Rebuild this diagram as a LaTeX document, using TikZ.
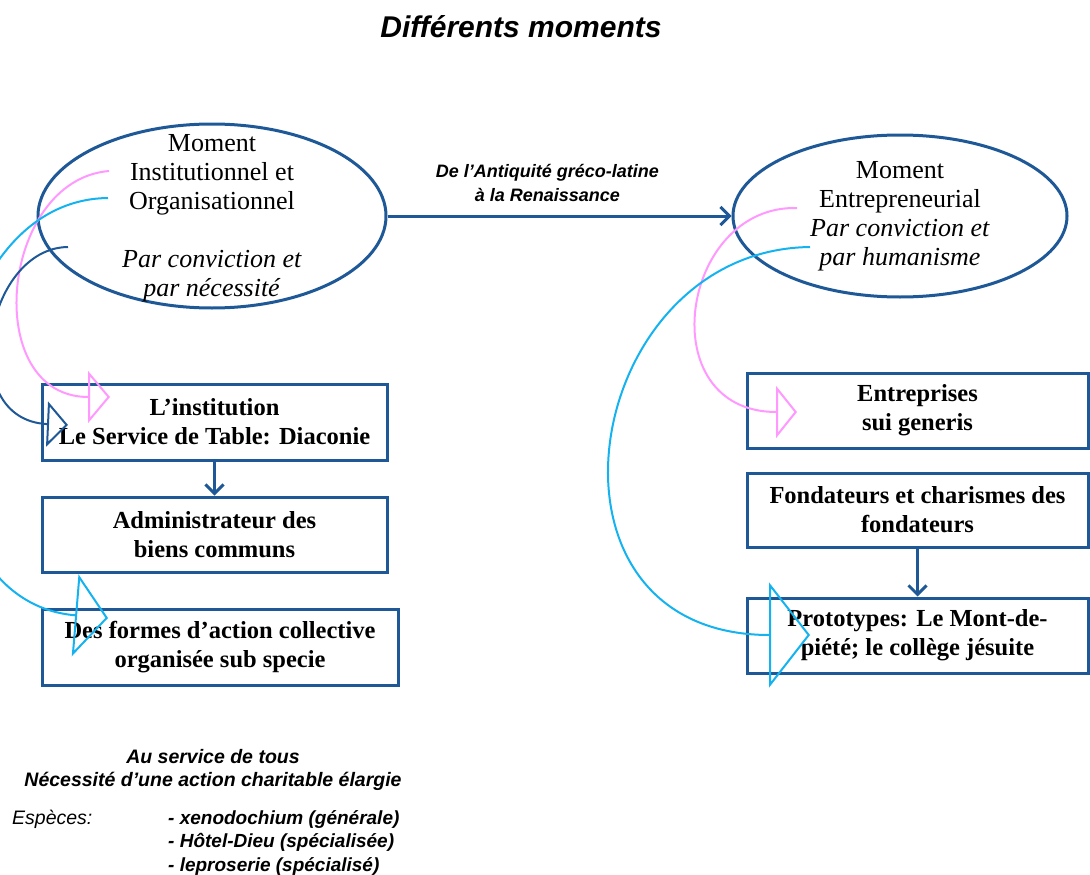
\documentclass[tikz,border=0pt]{standalone}
\usepackage{fontspec}
\setmainfont{Liberation Serif}
\setsansfont{Liberation Sans}
\usetikzlibrary{shapes.geometric,arrows.meta,positioning}

\definecolor{frameblue}{RGB}{31,88,150}
\definecolor{linkpink}{RGB}{255,153,255}
\definecolor{linkcyan}{RGB}{20,178,238}

\newcommand{\lcol}{214.5}
\newcommand{\rcol}{917.5}

\begin{document}
\begin{tikzpicture}[x=1pt,y=-1pt,
  moment/.style={draw=frameblue, line width=3pt, ellipse, inner sep=0pt},
  momtext/.style={align=center, inner sep=0pt, font=\fontsize{26}{29}\selectfont},
  stage/.style={draw=frameblue, line width=3pt, inner sep=0pt, align=center,
                font=\bfseries\fontsize{24.5}{29}\selectfont},
  flow/.style={frameblue, line width=3pt, -{Straight Barb[length=9pt,width=18pt]}},
  tag/.style={inner sep=0pt, align=center, text=black, font=\sffamily\bfseries\itshape\fontsize{18}{24}\selectfont},
  note/.style={inner sep=0pt, align=center, font=\sffamily\bfseries\itshape\fontsize{19.5}{23.5}\selectfont},
  link/.style={line width=2pt},
]
\clip (0,0) rectangle (1090,875);

\node[font=\sffamily\bfseries\itshape\fontsize{30}{36}\selectfont] (title) at (521,27) {Différents moments};

% moments
\node[moment, minimum width=348pt, minimum height=184pt] (momI) at (212,216) {};
\node[momtext] (momItext) at (212,218) {Moment\\Institutionnel et\\Organisationnel\\[29pt]
  \textit{Par conviction et}\\\textit{par nécessité}};
\node[moment, minimum width=334pt, minimum height=162pt] (momE) at (900,216) {};
\node[momtext] (momEtext) at (momE) {Moment\\Entrepreneurial\\
  \textit{Par conviction et}\\\textit{par humanisme}};

\draw[flow] (momI.east) -- node[tag, pos=0.465, above=13pt] (period)
  {De l’Antiquité gréco-latine\\à la Renaissance} (momE.west);

%% left column
\node[stage, minimum width=345pt, minimum height=76pt] (inst) at (\lcol,422) {L’institution\\Le Service de Table: Diaconie};
\node[stage, minimum width=345pt, minimum height=75pt] (admin) at (\lcol,534.5) {Administrateur des\\biens communs};
\node[stage, minimum width=356pt, minimum height=76pt] (forms) at (220,647) {Des formes d’action collective\\organisée sub specie};
\draw[flow] (inst) -- (admin);

%% right column
\node[stage, minimum width=341pt, minimum height=75pt] (firms) at (\rcol,410.5) {Entreprises\\sui generis};
\node[stage, minimum width=341pt, minimum height=74pt] (found) at (\rcol,510) {Fondateurs et charismes des\\fondateurs};
\node[stage, minimum width=341pt, minimum height=75pt] (proto) at (\rcol,635.5) {Prototypes: Le Mont-de-\\piété; le collège jésuite};
\draw[flow] (found) -- (proto);

%% bottom notes
\node[note] (serve) at (213,770) {Au service de tous\\Nécessité d’une action charitable élargie};
\node[anchor=base west, inner sep=0pt, font=\sffamily\itshape\fontsize{19.5}{23.5}\selectfont] (especes) at (12,824) {Espèces:};
\foreach \txt [count=\k] in {- xenodochium (générale),- Hôtel-Dieu (spécialisée),- leproserie (spécialisé)}
  \node[anchor=base west, inner sep=0pt, font=\sffamily\bfseries\itshape\fontsize{19}{23.5}\selectfont] (item\k) at (168,{800.5+23.5*\k}) {\txt};

% curved links
\coordinate (pinkIs) at (109,171);
\coordinate (pinkIe) at (110,397);
\coordinate (cyanIs) at (108,198);
\coordinate (cyanIe) at (108,618);
\coordinate (blueIs) at (68,247);
\coordinate (blueIe) at (68,425);
\coordinate (pinkEs) at (797,208);
\coordinate (pinkEe) at (797,412);
\coordinate (cyanEs) at (810,247);
\coordinate (cyanEe) at (810,635);

\draw[link, linkpink, -{Triangle[open,length=22pt,width=52pt]}]
  (pinkIs) .. controls (0,180) and (-20,397) .. (pinkIe);
\draw[link, linkcyan, -{Triangle[open,length=33pt,width=82pt]}]
  (cyanIs) .. controls (-80,200) and (-110,600) .. (cyanIe);
\draw[link, frameblue, -{Triangle[open,length=21pt,width=45pt]}]
  (blueIs) .. controls (-15,248) and (-45,420) .. (blueIe);
\draw[link, linkpink, -{Triangle[open,length=21pt,width=52pt]}]
  (pinkEs) .. controls (680,205) and (650,412) .. (pinkEe);
\draw[link, linkcyan, -{Triangle[open,length=41pt,width=105pt]}]
  (cyanEs) .. controls (580,250) and (520,635) .. (cyanEe);

\end{tikzpicture}
\end{document}
